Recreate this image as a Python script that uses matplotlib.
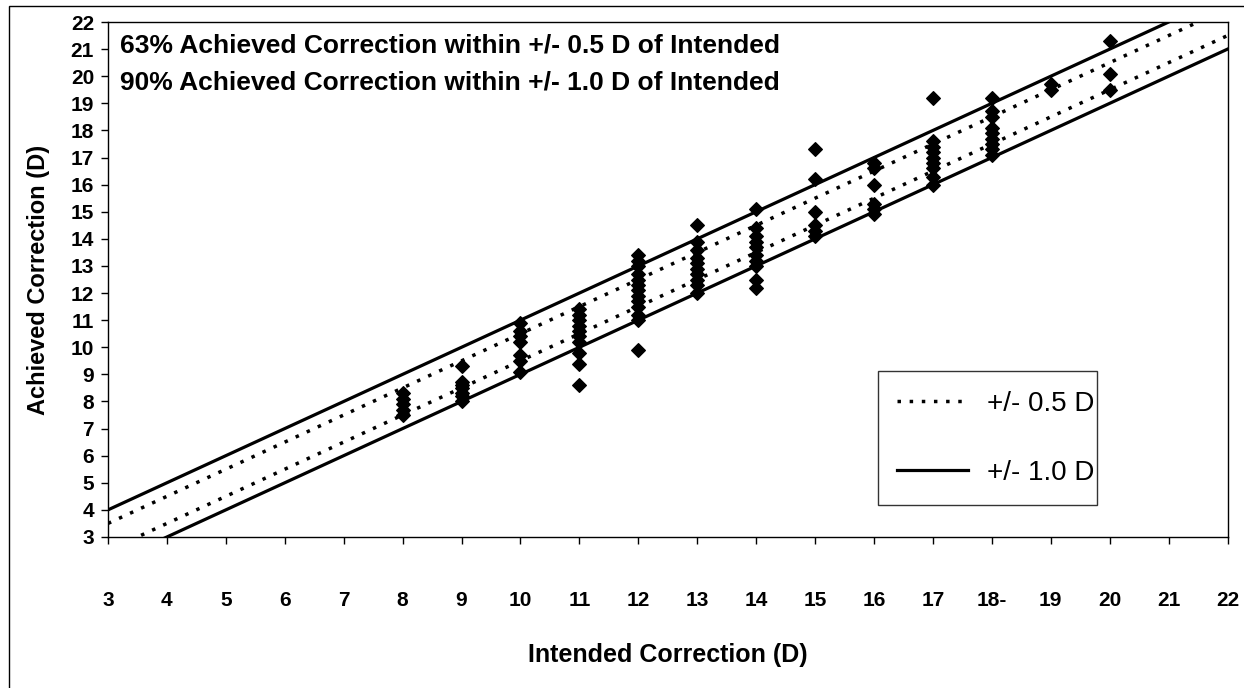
import matplotlib
matplotlib.use("Agg")
import matplotlib.pyplot as plt
import numpy as np

plt.rcParams['font.family'] = ['Liberation Sans', 'DejaVu Sans']

# Data: intended correction (x) and achieved correction (y)
x_8 = [8]*5;   y_8 = [7.5, 7.7, 7.9, 8.1, 8.3]
x_9 = [9]*7;   y_9 = [8.0, 8.2, 8.3, 8.5, 8.6, 8.7, 9.3]
x_10 = [10]*7; y_10 = [9.1, 9.5, 9.7, 10.2, 10.4, 10.6, 10.9]
x_11 = [11]*10; y_11 = [8.6, 9.4, 9.8, 10.2, 10.4, 10.6, 10.8, 11.0, 11.2, 11.4]
x_12 = [12]*13; y_12 = [9.9, 11.0, 11.2, 11.5, 11.7, 11.9, 12.1, 12.3, 12.5, 12.7, 13.0, 13.2, 13.4]
x_13 = [13]*10; y_13 = [12.0, 12.3, 12.5, 12.7, 12.9, 13.1, 13.3, 13.6, 13.9, 14.5]
x_14 = [14]*10; y_14 = [12.2, 12.5, 13.0, 13.2, 13.4, 13.7, 13.9, 14.1, 14.4, 15.1]
x_15 = [15]*6;  y_15 = [14.1, 14.3, 14.5, 15.0, 16.2, 17.3]
x_16 = [16]*6;  y_16 = [14.9, 15.1, 15.3, 16.0, 16.6, 16.8]
x_17 = [17]*9;  y_17 = [16.0, 16.3, 16.6, 16.8, 17.0, 17.2, 17.4, 17.6, 19.2]
x_18 = [18]*9;  y_18 = [17.1, 17.3, 17.5, 17.7, 17.9, 18.1, 18.5, 18.7, 19.2]
x_19 = [19]*2;  y_19 = [19.5, 19.7]
x_20 = [20]*3;  y_20 = [19.5, 20.1, 21.3]

intended = x_8 + x_9 + x_10 + x_11 + x_12 + x_13 + x_14 + x_15 + x_16 + x_17 + x_18 + x_19 + x_20
achieved = y_8 + y_9 + y_10 + y_11 + y_12 + y_13 + y_14 + y_15 + y_16 + y_17 + y_18 + y_19 + y_20

x_ticks = list(range(3, 23))
x_tick_labels = ['3', '4', '5', '6', '7', '8', '9', '10', '11', '12', '13', '14',
                 '15', '16', '17', '18-', '19', '20', '21', '22']
y_ticks = list(range(3, 23))
band_half = 0.5
band_full = 1.0

fig = plt.figure(figsize=(12.44, 6.88), dpi=100)
# outer border of the figure
fig.add_artist(plt.Rectangle((0.007, -0.1), 1.1, 1.092, transform=fig.transFigure,
                             fill=False, lw=1.0, color='black'))

ax = fig.add_axes([0.0868, 0.2195, 0.900, 0.7485])

xl = np.array([3.0, 22.0])
dot = (0, (1, 2.5))
ax.plot(xl, xl + band_half, color='black', ls=dot, lw=2.5, label='+/- 0.5 D')
ax.plot(xl, xl - band_half, color='black', ls=dot, lw=2.5)
ax.plot(xl, xl + band_full, color='black', ls='-', lw=2.3, label='+/- 1.0 D')
ax.plot(xl, xl - band_full, color='black', ls='-', lw=2.3)

ax.scatter(intended, achieved, marker='D', s=48, color='black', zorder=3)

ax.set_xlim(3, 22)
ax.set_ylim(3, 22)
ax.set_xticks(x_ticks)
ax.set_xticklabels(x_tick_labels, fontsize=15, fontweight='bold')
ax.set_yticks(y_ticks)
ax.set_yticklabels([str(v) for v in y_ticks], fontsize=15, fontweight='bold')
ax.tick_params(axis='both', direction='out', length=5, width=1)
ax.tick_params(axis='x', pad=34)
ax.tick_params(axis='y', pad=5)
for s in ax.spines.values():
    s.set_linewidth(1.0)

ax.set_xlabel('Intended Correction (D)', fontsize=18, fontweight='bold', labelpad=24)
ax.set_ylabel('Achieved Correction (D)', fontsize=17, fontweight='bold', labelpad=15)

ax.text(0.011, 0.955, '63% Achieved Correction within +/- 0.5 D of Intended',
        transform=ax.transAxes, fontsize=19, fontweight='bold', va='center')
ax.text(0.011, 0.882, '90% Achieved Correction within +/- 1.0 D of Intended',
        transform=ax.transAxes, fontsize=19, fontweight='bold', va='center')

leg = ax.legend(loc='lower left', bbox_to_anchor=(0.6875, 0.062, 0.196, 0.262),
                mode='expand', fontsize=20, frameon=True, fancybox=False,
                edgecolor='black', handlelength=2.55, labelspacing=1.55,
                borderpad=0.7, handletextpad=0.7, borderaxespad=0)
leg.get_frame().set_linewidth(1.0)

fig.savefig('out.png', dpi=100)
